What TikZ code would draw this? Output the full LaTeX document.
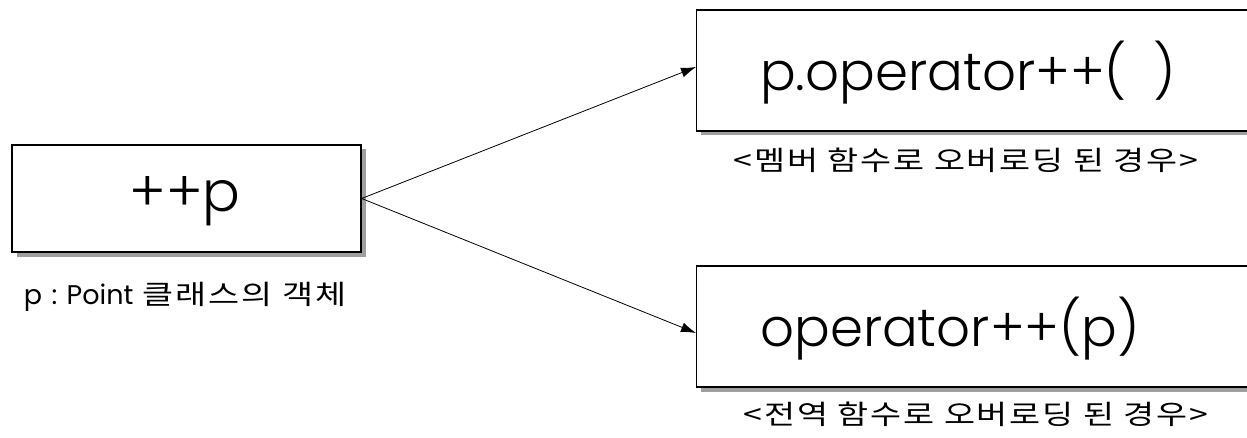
\documentclass[tikz,border=0pt]{standalone}
\usepackage{fontspec}
\setmainfont{Liberation Sans}
\newfontfamily\kor[FakeStretch=1.25,LetterSpace=7]{Noto Sans CJK KR}
\newfontfamily\opfont{Poppins Light}
\newfontfamily\notelatin{Poppins}
\usetikzlibrary{arrows.meta}
\usetikzlibrary{shadows}

\begin{document}
\begin{tikzpicture}[x=1pt,y=1pt,
    opbox/.style={draw, line width=1.3pt, fill=white, inner sep=0pt,
      drop shadow={shadow xshift=4.5pt, shadow yshift=-4.5pt, fill=gray!75, opacity=1}},
    optext/.style={font=\opfont\fontsize{53}{60}\selectfont},
    note/.style={font=\kor\fontsize{27}{32}\selectfont},
    callarrow/.style={line width=0.8pt, -{Latex[length=15pt,width=10pt]}}]
  \useasboundingbox (0,0) rectangle (1247,437);
  \clip (0,0) rectangle (1247,437);

  % Expression
  \node[opbox, minimum width=349pt, minimum height=107pt] (expr) at (186.5,238.5) {};
  \node[optext] (exprtext) at (185,236) {\fontsize{56}{60}\selectfont ++p};
  \node[note] (exprnote) at (185,140) {{\notelatin p\hspace{0.35em}:\hspace{0.35em}Point} 클래스의 객체};

  % Member function
  \node[opbox, minimum width=600pt, minimum height=121pt, anchor=west] (member) at (696,366.5) {};
  \node[optext] (membertext) at (968,364) {p.operator++(\hspace{0.5em})};
  \node[note] (membernote) at (966,277) {<멤버 함수로 오버로딩 된 경우>};

  % Global function
  \node[opbox, minimum width=600pt, minimum height=121pt, anchor=west] (global) at (696,110.5) {};
  \node[optext] (globaltext) at (950,108) {operator++(p)};
  \node[note] (globalnote) at (976,23) {<전역 함수로 오버로딩 된 경우>};

  % Calls
  \draw[callarrow] (expr.east) -- ([yshift=3.5pt]member.west);
  \draw[callarrow] (expr.east) -- ([yshift=-6.5pt]global.west);
\end{tikzpicture}
\end{document}
